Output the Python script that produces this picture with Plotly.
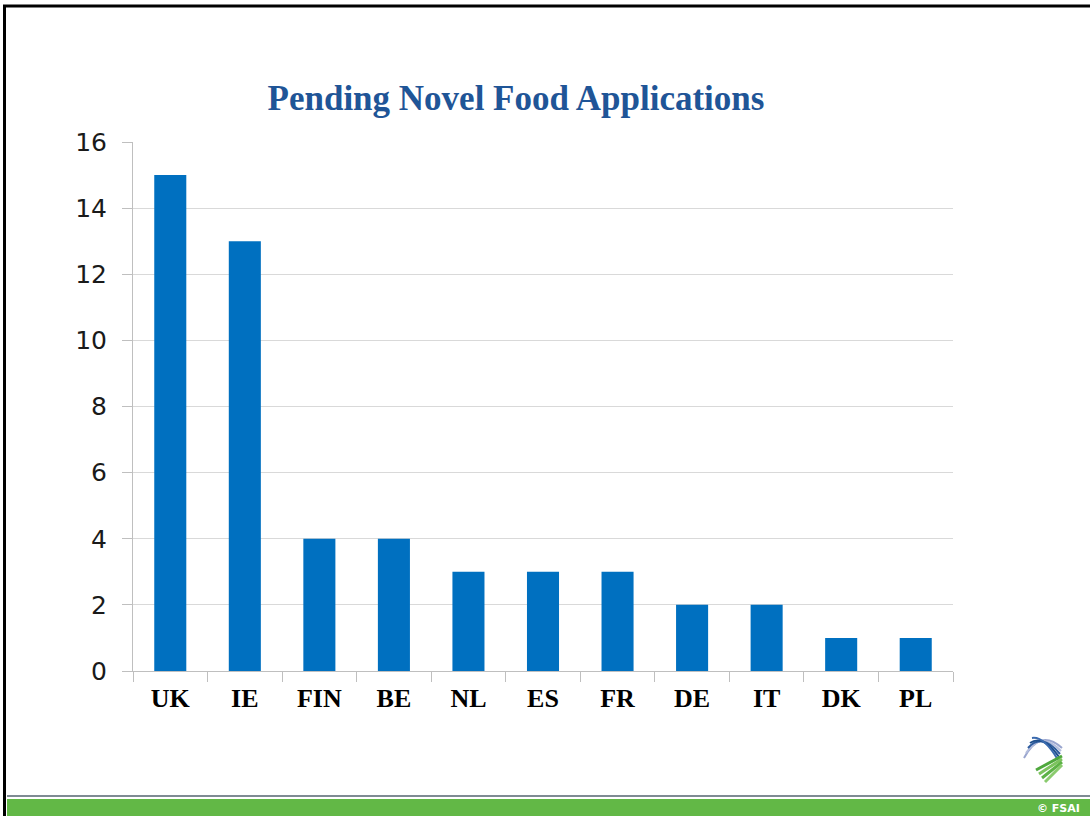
import plotly.graph_objects as go

W, H = 1090, 816

countries = ["UK", "IE", "FIN", "BE", "NL", "ES", "FR", "DE", "IT", "DK", "PL"]
applications = [15, 13, 4, 4, 3, 3, 3, 2, 2, 1, 1]
y_ticks = [0, 2, 4, 6, 8, 10, 12, 14, 16]


def px(x):
    # page pixel -> paper fraction
    return x / W


def py(y):
    return 1 - y / H


fig = go.Figure()
fig.add_trace(go.Bar(
    x=countries,
    y=applications,
    marker=dict(color="#0070C0", line=dict(width=0)),
    width=0.43,
    hoverinfo="x+y",
))

shapes = [
    # slide border (top and left)
    dict(type="line", xref="paper", yref="paper", x0=px(3), x1=px(1092), y0=py(6), y1=py(6),
         line=dict(color="black", width=3)),
    dict(type="line", xref="paper", yref="paper", x0=px(4.5), x1=px(4.5), y0=py(5), y1=py(820),
         line=dict(color="black", width=3)),
    # footer rule and green band
    dict(type="line", xref="paper", yref="paper", x0=px(7), x1=px(1092), y0=py(796), y1=py(796),
         line=dict(color="#7E8B93", width=2)),
    dict(type="rect", xref="paper", yref="paper", x0=px(7), x1=px(1092), y0=py(799), y1=py(820),
         fillcolor="#62B846", line=dict(width=0)),
]

# rough logo: blue waves over green stripes
for i, c in enumerate(["#9AA6CF", "#B4BEDD", "#2E5C9E", "#1E4E8C", "#3A6AAE"]):
    shapes.append(dict(
        type="path", xref="paper", yref="paper",
        path=f"M {px(1024 + i*2)} {py(758 - i*5)} Q {px(1040 + i)} {py(728 + i*2)} {px(1062 - i)} {py(748 + i*3)}",
        line=dict(color=c, width=2),
    ))
for i, c in enumerate(["#4FA83D", "#7CC35E", "#5DB246", "#8ACB6E"]):
    shapes.append(dict(
        type="path", xref="paper", yref="paper",
        path=f"M {px(1036 + i*3)} {py(770 + i*4)} L {px(1062)} {py(756 + i*3)}",
        line=dict(color=c, width=3),
    ))

fig.update_layout(
    width=W,
    height=H,
    margin=dict(l=0, r=0, t=0, b=0, autoexpand=False),
    paper_bgcolor="white",
    plot_bgcolor="white",
    showlegend=False,
    bargap=0.57,
    title=dict(
        text="<b>Pending Novel Food Applications</b>",
        x=px(516), xanchor="center",
        y=py(98), yanchor="middle",
        font=dict(family="Liberation Serif, Times New Roman, serif", size=35, color="#1F5597"),
    ),
    xaxis=dict(
        domain=[px(133), px(953)],
        automargin=False,
        showgrid=False,
        showline=True,
        linecolor="#BFBFBF",
        linewidth=1,
        ticks="outside",
        tickson="boundaries",
        ticklen=10,
        tickcolor="#BFBFBF",
        tickfont=dict(family="Liberation Serif, Times New Roman, serif", size=26, color="black"),
        ticklabelstandoff=4,
        tickprefix="<b>",
        ticksuffix="</b>",
    ),
    yaxis=dict(
        domain=[py(671), py(142)],
        automargin=False,
        range=[0, 16],
        tickvals=y_ticks,
        showgrid=True,
        gridcolor="#D9D9D9",
        gridwidth=1,
        showline=True,
        linecolor="#BFBFBF",
        linewidth=1,
        ticks="outside",
        ticklen=10,
        tickcolor="#BFBFBF",
        zeroline=False,
        tickfont=dict(family="DejaVu Sans, Verdana, sans-serif", size=25, color="#1A1A1A"),
        ticklabelstandoff=10,
    ),
    shapes=shapes,
    annotations=[dict(
        text="<b>© FSAI</b>", xref="paper", yref="paper",
        x=px(1082), y=py(808), xanchor="right", yanchor="middle",
        showarrow=False,
        font=dict(family="DejaVu Sans, Verdana, sans-serif", size=11, color="white"),
    )],
)

# drop the default 8px body margin so the figure fills the window exactly
fig.write_html(
    "out.html",
    config={"displayModeBar": False},
    post_script="document.body.style.margin='0';document.body.style.overflow='hidden';",
)
